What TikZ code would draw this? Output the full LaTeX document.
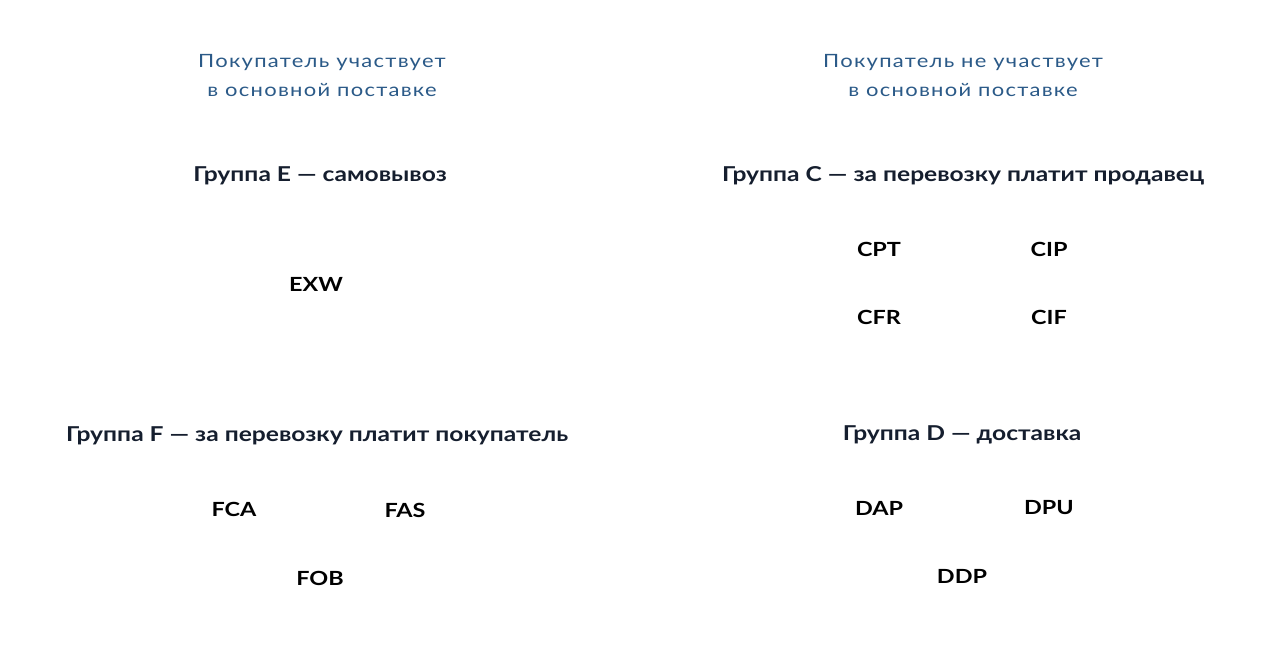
\documentclass[tikz,border=0pt]{standalone}
\usepackage{fontspec}
\setmainfont{Lato}
\newfontfamily\subfont[FakeStretch=1.2,LetterSpace=7]{Lato}
\newfontfamily\headfont[FakeStretch=1.2]{Lato}
\definecolor{subblue}{HTML}{2B5A88}
\definecolor{headnavy}{HTML}{151E2E}
\begin{document}
\begin{tikzpicture}[x=1pt,y=-1pt,
  sub/.style={text=subblue,font=\subfont\fontsize{18.3}{29}\selectfont,align=center,inner sep=0pt},
  head/.style={text=headnavy,font=\headfont\fontsize{20.5}{24}\selectfont\bfseries,inner sep=0pt},
  term/.style={text=black,font=\headfont\fontsize{19.5}{23}\selectfont\bfseries,inner sep=0pt}]
\path[use as bounding box,fill=white] (0,0) rectangle (1280,672);
\node[sub] (s1) at (322,76) {Покупатель участвует\\в основной поставке};
\node[sub] (s2) at (963,76) {Покупатель не участвует\\в основной поставке};
\node[head] (gE) at (320,176) {Группа E — самовывоз};
\node[head] (gC) at (963,176) {Группа C — за перевозку платит продавец};
\node[head] (gF) at (317,436) {Группа F — за перевозку платит покупатель};
\node[head] (gD) at (962,435) {Группа D — доставка};
\node[term] (exw) at (316,284) {EXW};
\node[term] (cpt) at (879,249) {CPT};
\node[term] (cip) at (1049,249) {CIP};
\node[term] (cfr) at (879,317) {CFR};
\node[term] (cif) at (1049,317) {CIF};
\node[term] (fca) at (234,509) {FCA};
\node[term] (fas) at (405,510) {FAS};
\node[term] (fob) at (320,578) {FOB};
\node[term] (dap) at (879,508) {DAP};
\node[term] (dpu) at (1049,508) {DPU};
\node[term] (ddp) at (962,576) {DDP};
\end{tikzpicture}
\end{document}
